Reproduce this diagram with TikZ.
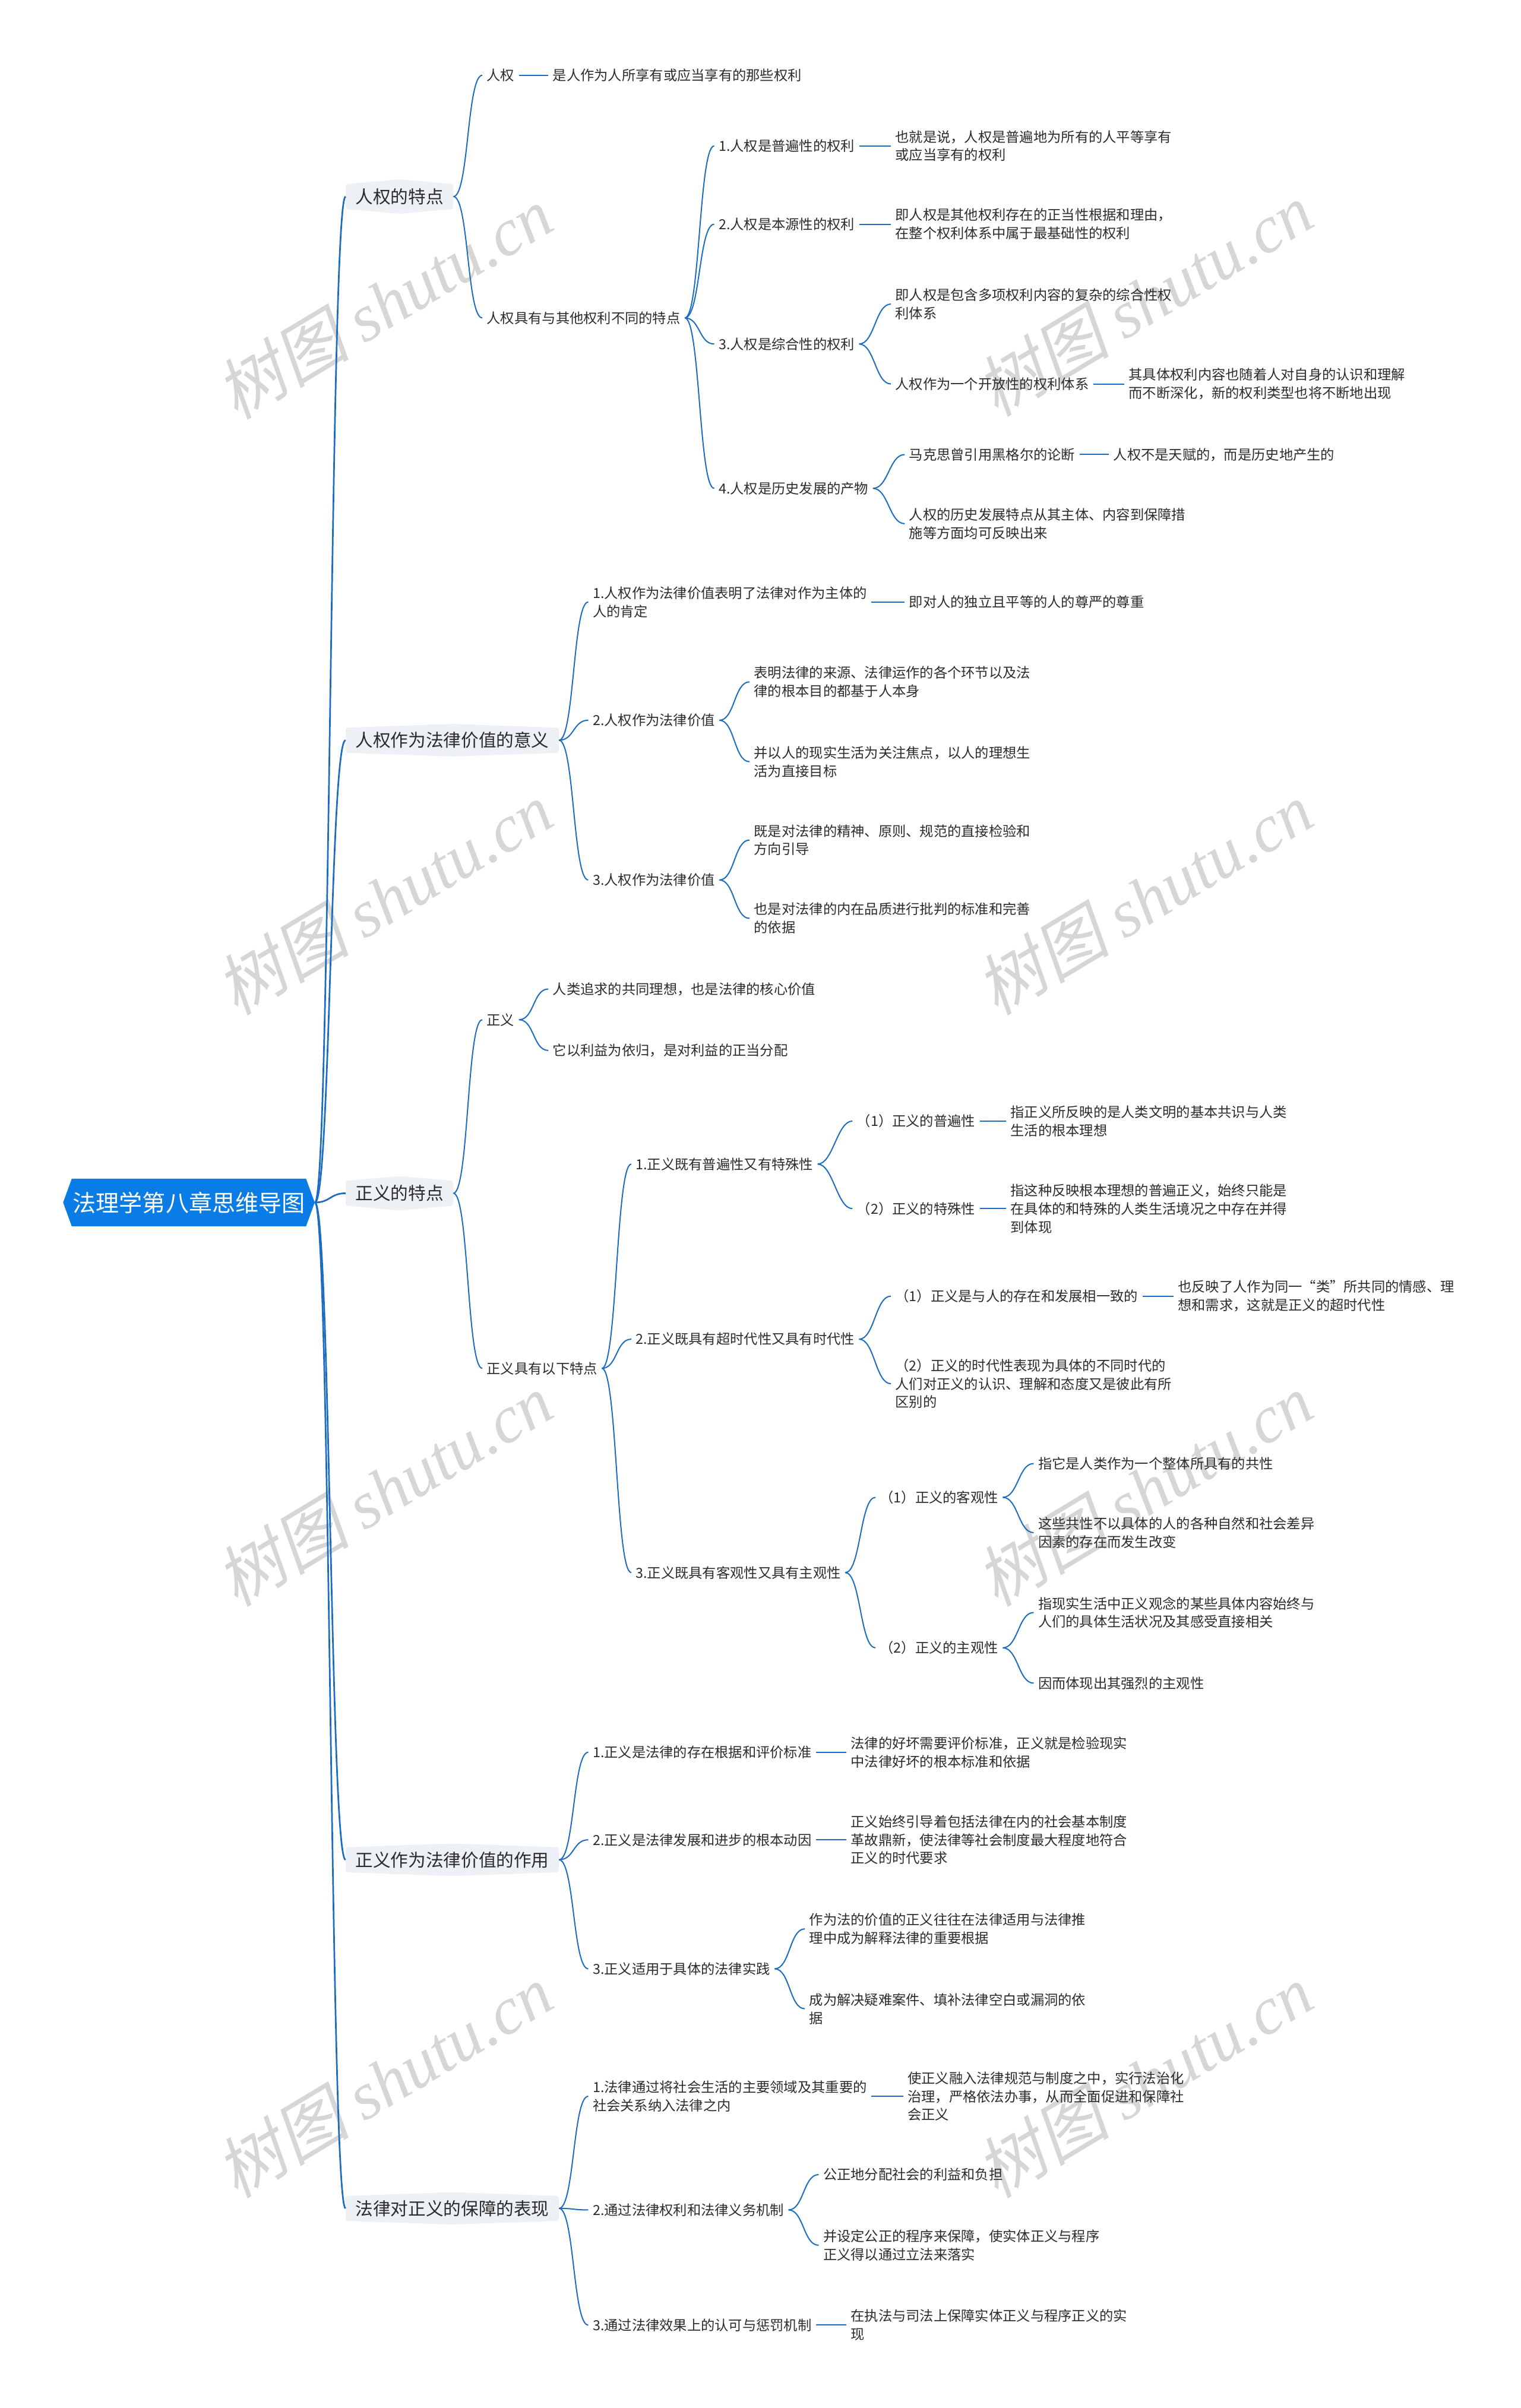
\documentclass[tikz,border=0pt]{standalone}
\usepackage{fontspec}
\setmainfont{Noto Sans CJK SC}
\newfontfamily\wmserif{Liberation Serif}
\newfontfamily\wmcjk{Noto Sans CJK SC}[FakeSlant=0.2]
\usetikzlibrary{shapes.symbols}
\definecolor{rootblue}{HTML}{0A7CE6}
\definecolor{topicgrey}{HTML}{EDF0F4}
\definecolor{linkblue}{HTML}{1C6DC0}
\definecolor{ink}{HTML}{2B2B2B}
\newcommand{\curvelink}[2]{\draw[link] (#1.east) .. controls +(10,0) and +(-10,0) .. (#2.west);}
\newcommand{\flatlink}[2]{\draw[link] (#1.east) -- (#2.west);}
\newcommand{\wmark}[1]{\node[wm] at #1 {{\wmcjk 树图} {\wmserif\itshape shutu.cn}};}
\tikzset{
  root/.style={signal, signal to=east and west, signal pointer angle=140, fill=rootblue,
    text=white, font=\fontsize{21.5}{26}\selectfont, inner xsep=1pt, inner ysep=12pt},
  topic/.style={signal, signal to=north and south, fill=topicgrey, text=ink, anchor=west,
    rounded corners=2pt, font=\fontsize{16.3}{20}\selectfont, inner xsep=9pt, inner ysep=4pt},
  leaf/.style={font=\fontsize{12.8}{17}\selectfont, text=ink, align=left, anchor=west,
    inner xsep=4pt, inner ysep=1pt},
  link/.style={draw=linkblue, line width=1.1pt},
  wm/.style={rotate=31, text=black!16, font=\fontsize{62}{62}\selectfont}
}
\begin{document}
\begin{tikzpicture}[x=0.05cm,y=-0.05cm]
\useasboundingbox (0,0) rectangle (990,1568);
% watermark
\wmark{(250,197)} \wmark{(745,195)}
\wmark{(250,585)} \wmark{(745,585)}
\wmark{(250,970)} \wmark{(745,970)}
\wmark{(250,1355)} \wmark{(745,1355)}

\node[root] (root) at (123,783) {法理学第八章思维导图};
\node[topic,signal pointer angle=170] (t1) at (225,128) {人权的特点};
\node[topic,signal pointer angle=176] (t2) at (225,482) {人权作为法律价值的意义};
\node[topic,signal pointer angle=170] (t3) at (225,777) {正义的特点};
\node[topic,signal pointer angle=176] (t4) at (225,1211) {正义作为法律价值的作用};
\node[topic,signal pointer angle=176] (t5) at (225,1438) {法律对正义的保障的表现};

% 人权的特点
\node[leaf] (a) at (314,49) {人权};
\node[leaf] (a1) at (357,49) {是人作为人所享有或应当享有的那些权利};
\node[leaf] (b) at (314,207) {人权具有与其他权利不同的特点};
\node[leaf] (b1) at (465,95) {1.人权是普遍性的权利};
\node[leaf] (b1a) at (580,95) {也就是说，人权是普遍地为所有的人平等享有\\或应当享有的权利};
\node[leaf] (b2) at (465,146) {2.人权是本源性的权利};
\node[leaf] (b2a) at (580,146) {即人权是其他权利存在的正当性根据和理由，\\在整个权利体系中属于最基础性的权利};
\node[leaf] (b3) at (465,224) {3.人权是综合性的权利};
\node[leaf] (b3a) at (580,198) {即人权是包含多项权利内容的复杂的综合性权\\利体系};
\node[leaf] (b3b) at (580,250) {人权作为一个开放性的权利体系};
\node[leaf] (b3c) at (732,250) {其具体权利内容也随着人对自身的认识和理解\\而不断深化，新的权利类型也将不断地出现};
\node[leaf] (b4) at (465,318) {4.人权是历史发展的产物};
\node[leaf] (b4a) at (589,296) {马克思曾引用黑格尔的论断};
\node[leaf] (b4b) at (722,296) {人权不是天赋的，而是历史地产生的};
\node[leaf] (b4c) at (589,341) {人权的历史发展特点从其主体、内容到保障措\\施等方面均可反映出来};

% 人权作为法律价值的意义
\node[leaf] (c1) at (383,392) {1.人权作为法律价值表明了法律对作为主体的\\人的肯定};
\node[leaf] (c1a) at (589,392) {即对人的独立且平等的人的尊严的尊重};
\node[leaf] (c2) at (383,469) {2.人权作为法律价值};
\node[leaf] (c2a) at (488,444) {表明法律的来源、法律运作的各个环节以及法\\律的根本目的都基于人本身};
\node[leaf] (c2b) at (488,496) {并以人的现实生活为关注焦点，以人的理想生\\活为直接目标};
\node[leaf] (c3) at (383,573) {3.人权作为法律价值};
\node[leaf] (c3a) at (488,547) {既是对法律的精神、原则、规范的直接检验和\\方向引导};
\node[leaf] (c3b) at (488,598) {也是对法律的内在品质进行批判的标准和完善\\的依据};

% 正义的特点
\node[leaf] (d) at (314,664) {正义};
\node[leaf] (d1) at (357,644) {人类追求的共同理想，也是法律的核心价值};
\node[leaf] (d2) at (357,684) {它以利益为依归，是对利益的正当分配};
\node[leaf] (e) at (314,891) {正义具有以下特点};
\node[leaf] (e1) at (411,758) {1.正义既有普遍性又有特殊性};
\node[leaf] (e1a) at (555,730) {（1）正义的普遍性};
\node[leaf] (e1b) at (655,730) {指正义所反映的是人类文明的基本共识与人类\\生活的根本理想};
\node[leaf] (e1c) at (555,787) {（2）正义的特殊性};
\node[leaf] (e1d) at (655,787) {指这种反映根本理想的普遍正义，始终只能是\\在具体的和特殊的人类生活境况之中存在并得\\到体现};
\node[leaf] (e2) at (411,872) {2.正义既具有超时代性又具有时代性};
\node[leaf] (e2a) at (580,844) {（1）正义是与人的存在和发展相一致的};
\node[leaf] (e2b) at (764,844) {也反映了人作为同一“类”所共同的情感、理\\想和需求，这就是正义的超时代性};
\node[leaf] (e2c) at (580,901) {（2）正义的时代性表现为具体的不同时代的\\人们对正义的认识、理解和态度又是彼此有所\\区别的};
\node[leaf] (e3) at (411,1024) {3.正义既具有客观性又具有主观性};
\node[leaf] (e3a) at (570,975) {（1）正义的客观性};
\node[leaf] (e3a1) at (673,953) {指它是人类作为一个整体所具有的共性};
\node[leaf] (e3a2) at (673,998) {这些共性不以具体的人的各种自然和社会差异\\因素的存在而发生改变};
\node[leaf] (e3b) at (570,1073) {（2）正义的主观性};
\node[leaf] (e3b1) at (673,1050) {指现实生活中正义观念的某些具体内容始终与\\人们的具体生活状况及其感受直接相关};
\node[leaf] (e3b2) at (673,1096) {因而体现出其强烈的主观性};

% 正义作为法律价值的作用
\node[leaf] (f1) at (383,1141) {1.正义是法律的存在根据和评价标准};
\node[leaf] (f1a) at (551,1141) {法律的好坏需要评价标准，正义就是检验现实\\中法律好坏的根本标准和依据};
\node[leaf] (f2) at (383,1198) {2.正义是法律发展和进步的根本动因};
\node[leaf] (f2a) at (551,1198) {正义始终引导着包括法律在内的社会基本制度\\革故鼎新，使法律等社会制度最大程度地符合\\正义的时代要求};
\node[leaf] (f3) at (383,1282) {3.正义适用于具体的法律实践};
\node[leaf] (f3a) at (524,1256) {作为法的价值的正义往往在法律适用与法律推\\理中成为解释法律的重要根据};
\node[leaf] (f3b) at (524,1308) {成为解决疑难案件、填补法律空白或漏洞的依\\据};

% 法律对正义的保障的表现
\node[leaf] (g1) at (383,1365) {1.法律通过将社会生活的主要领域及其重要的\\社会关系纳入法律之内};
\node[leaf] (g1a) at (588,1365) {使正义融入法律规范与制度之中，实行法治化\\治理，严格依法办事，从而全面促进和保障社\\会正义};
\node[leaf] (g2) at (383,1439) {2.通过法律权利和法律义务机制};
\node[leaf] (g2a) at (533,1416) {公正地分配社会的利益和负担};
\node[leaf] (g2b) at (533,1462) {并设定公正的程序来保障，使实体正义与程序\\正义得以通过立法来落实};
\node[leaf] (g3) at (383,1514) {3.通过法律效果上的认可与惩罚机制};
\node[leaf] (g3a) at (551,1514) {在执法与司法上保障实体正义与程序正义的实\\现};

% links
\foreach \p/\c in {t1,t2,t3,t4,t5}
  {\draw[link,line width=1.5pt] (root.east) .. controls +(10,0) and +(-10,0) .. (\p.west);}
\foreach \p/\c in {t1/a,t1/b,b/b1,b/b2,b/b3,b/b4,b3/b3a,b3/b3b,b4/b4a,b4/b4c,
  t2/c1,t2/c2,t2/c3,c2/c2a,c2/c2b,c3/c3a,c3/c3b,
  t3/d,t3/e,d/d1,d/d2,e/e1,e/e2,e/e3,e1/e1a,e1/e1c,e2/e2a,e2/e2c,e3/e3a,e3/e3b,
  e3a/e3a1,e3a/e3a2,e3b/e3b1,e3b/e3b2,
  t4/f1,t4/f2,t4/f3,f3/f3a,f3/f3b,
  t5/g1,t5/g2,t5/g3,g2/g2a,g2/g2b}
  {\curvelink{\p}{\c}}
\foreach \p/\c in {a/a1,b1/b1a,b2/b2a,b3b/b3c,b4a/b4b,c1/c1a,e1a/e1b,e1c/e1d,e2a/e2b,
  f1/f1a,f2/f2a,g1/g1a,g3/g3a}
  {\flatlink{\p}{\c}}
\end{tikzpicture}
\end{document}
